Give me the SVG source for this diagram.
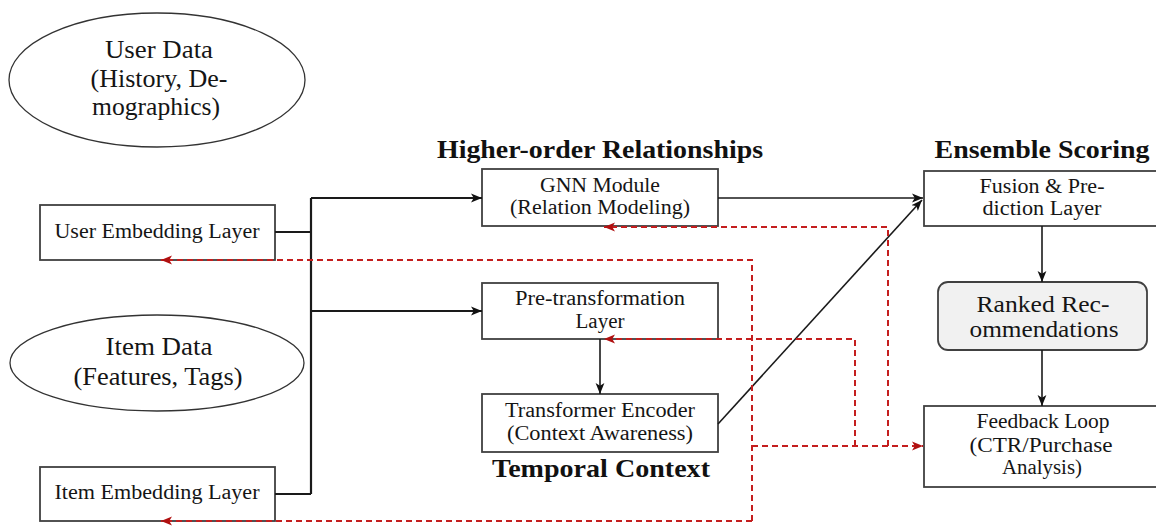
<svg xmlns="http://www.w3.org/2000/svg" width="1156" height="528" viewBox="0 0 1156 528">
  <defs>
    <style>
      .node { fill: #ffffff; stroke: #404040; stroke-width: 1.8; }
      .oval { fill: #ffffff; stroke: #333333; stroke-width: 1.3; }
      .ranked { fill: #f1f1f1; stroke: #404040; stroke-width: 1.8; }
      .t { font-family: "Liberation Serif", "DejaVu Serif", serif; fill: #151515; text-anchor: middle; }
      .small { font-size: 20px; }
      .mid { font-size: 23px; }
      .big { font-size: 25px; }
      .title { font-family: "Liberation Serif", "DejaVu Serif", serif; font-weight: bold; font-size: 25px; fill: #111111; text-anchor: middle; }
      .flow { fill: none; stroke: #1a1a1a; stroke-width: 2.2; }
      .thin { fill: none; stroke: #1a1a1a; stroke-width: 1.6; }
      .fb { fill: none; stroke: #c41e1e; stroke-width: 2; stroke-dasharray: 6 4; }
    </style>
    <marker id="ah" viewBox="0 0 10 10" refX="10" refY="5" markerWidth="11" markerHeight="11" markerUnits="userSpaceOnUse" orient="auto">
      <path d="M0,1 L10,5 L0,9 L2.5,5 z" fill="#111111"/>
    </marker>
    <marker id="ahr" viewBox="0 0 10 10" refX="10" refY="5" markerWidth="11" markerHeight="11" markerUnits="userSpaceOnUse" orient="auto">
      <path d="M0,1 L10,5 L0,9 L2.5,5 z" fill="#b01010"/>
    </marker>
  </defs>

  <rect width="1156" height="528" fill="#ffffff"/>

  <!-- section titles -->
  <text class="title" x="600" y="158" textLength="326" lengthAdjust="spacingAndGlyphs">Higher-order Relationships</text>
  <text class="title" x="1042" y="158" textLength="215" lengthAdjust="spacingAndGlyphs">Ensemble Scoring</text>
  <text class="title" x="601" y="477" textLength="218" lengthAdjust="spacingAndGlyphs">Temporal Context</text>

  <!-- input sources -->
  <g id="user-data">
    <ellipse class="oval" cx="157" cy="80" rx="148" ry="67"/>
    <text class="t big" x="159" y="58" textLength="108" lengthAdjust="spacingAndGlyphs">User Data</text>
    <text class="t big" x="159" y="87" textLength="137" lengthAdjust="spacingAndGlyphs">(History, De-</text>
    <text class="t big" x="156" y="115" textLength="128" lengthAdjust="spacingAndGlyphs">mographics)</text>
  </g>

  <g id="item-data">
    <ellipse class="oval" cx="157" cy="363" rx="147" ry="48"/>
    <text class="t big" x="159" y="355" textLength="107" lengthAdjust="spacingAndGlyphs">Item Data</text>
    <text class="t big" x="158" y="385" textLength="169" lengthAdjust="spacingAndGlyphs">(Features, Tags)</text>
  </g>

  <g id="user-embedding">
    <rect class="node" x="40" y="205" width="235" height="55"/>
    <text class="t small" x="157" y="238" textLength="205" lengthAdjust="spacingAndGlyphs">User Embedding Layer</text>
  </g>

  <g id="item-embedding">
    <rect class="node" x="40" y="467" width="235" height="54"/>
    <text class="t small" x="157" y="499" textLength="205" lengthAdjust="spacingAndGlyphs">Item Embedding Layer</text>
  </g>

  <!-- middle column -->
  <g id="gnn">
    <rect class="node" x="482" y="169" width="236" height="57"/>
    <text class="t small" x="600" y="192" textLength="120" lengthAdjust="spacingAndGlyphs">GNN Module</text>
    <text class="t small" x="600" y="214" textLength="180" lengthAdjust="spacingAndGlyphs">(Relation Modeling)</text>
  </g>

  <g id="pre-transformation">
    <rect class="node" x="482" y="283" width="236" height="56"/>
    <text class="t small" x="600" y="305" textLength="170" lengthAdjust="spacingAndGlyphs">Pre-transformation</text>
    <text class="t small" x="600" y="328" textLength="49" lengthAdjust="spacingAndGlyphs">Layer</text>
  </g>

  <g id="transformer">
    <rect class="node" x="482" y="394" width="236" height="58"/>
    <text class="t small" x="600" y="417" textLength="190" lengthAdjust="spacingAndGlyphs">Transformer Encoder</text>
    <text class="t small" x="600" y="440" textLength="186" lengthAdjust="spacingAndGlyphs">(Context Awareness)</text>
  </g>

  <!-- right column -->
  <g id="fusion">
    <rect class="node" x="924" y="171" width="236" height="55"/>
    <text class="t small" x="1042" y="193" textLength="125" lengthAdjust="spacingAndGlyphs">Fusion &amp; Pre-</text>
    <text class="t small" x="1042" y="215" textLength="119" lengthAdjust="spacingAndGlyphs">diction Layer</text>
  </g>

  <g id="ranked">
    <rect class="ranked" x="938" y="282" width="209" height="68" rx="10" ry="10"/>
    <text class="t mid" x="1043" y="312" textLength="133" lengthAdjust="spacingAndGlyphs">Ranked Rec-</text>
    <text class="t mid" x="1044" y="337" textLength="149" lengthAdjust="spacingAndGlyphs">ommendations</text>
  </g>

  <g id="feedback">
    <rect class="node" x="924" y="406" width="236" height="81"/>
    <text class="t small" x="1043" y="428" textLength="133" lengthAdjust="spacingAndGlyphs">Feedback Loop</text>
    <text class="t small" x="1041" y="452" textLength="143" lengthAdjust="spacingAndGlyphs">(CTR/Purchase</text>
    <text class="t small" x="1042" y="474" textLength="80" lengthAdjust="spacingAndGlyphs">Analysis)</text>
  </g>

  <!-- connectors -->
  <g id="connectors">
    <!-- embedding bus into the two encoders -->
    <path class="flow" d="M275,232 H311 M275,494 H311 M311,198 V494"/>
    <path class="flow" d="M311,198 H482" marker-end="url(#ah)"/>
    <path class="flow" d="M311,311 H482" marker-end="url(#ah)"/>
    <!-- encoders into fusion -->
    <path class="thin" d="M718,198 H923" marker-end="url(#ah)"/>
    <path class="thin" d="M718,424 L922,200" marker-end="url(#ah)"/>
    <path class="thin" d="M600,339 V394" marker-end="url(#ah)"/>
    <!-- scoring chain -->
    <path class="thin" d="M1042,226 V282" marker-end="url(#ah)"/>
    <path class="thin" d="M1042,350 V406" marker-end="url(#ah)"/>

    <!-- feedback routes (dashed) -->
    <path class="fb" d="M752,521 V260 H161" marker-end="url(#ahr)"/>
    <path class="fb" d="M752,521 H161" marker-end="url(#ahr)"/>
    <path class="fb" d="M888,446 V227 H604" marker-end="url(#ahr)"/>
    <path class="fb" d="M855,446 V339 H604" marker-end="url(#ahr)"/>
    <path class="fb" d="M752,446 H923" marker-end="url(#ahr)"/>
  </g>
</svg>
